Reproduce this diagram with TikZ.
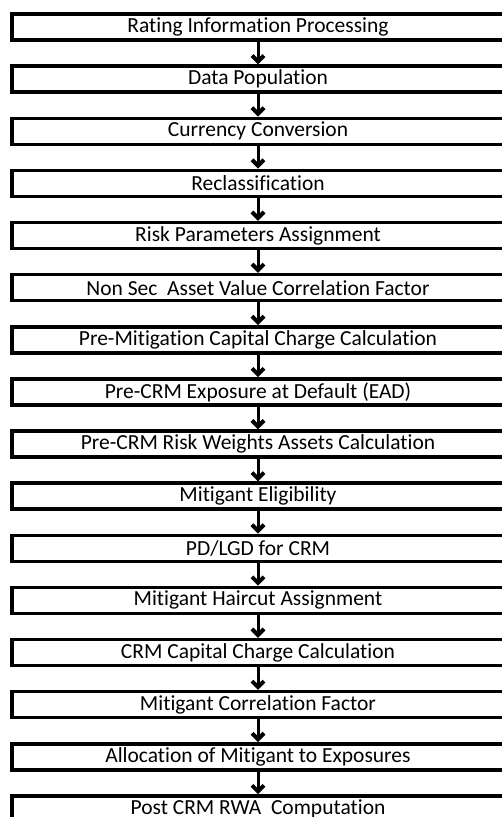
\documentclass[tikz,border=0pt]{standalone}
\usepackage{fontspec}
\setmainfont{Carlito}[Ligatures=NoCommon]
\usepackage{tikz}
\usetikzlibrary{arrows.meta}

\begin{document}
\begin{tikzpicture}[x=1pt,y=-1pt,
    stepbox/.style={draw,line width=3.5pt,minimum width=492pt,minimum height=26pt,
      inner sep=0pt,font=\fontsize{21.5}{24}\selectfont},
    flow/.style={line width=3pt,-{Straight Barb[length=6pt,width=12pt,line width=4pt]}}]
  \useasboundingbox (0,0) rectangle (502,817);
  \clip (0,0) rectangle (502,817);
  \foreach \lbl [count=\i] in {Rating Information Processing,Data Population,Currency Conversion,
      Reclassification,Risk Parameters Assignment,Non Sec\ \ Asset Value Correlation Factor,
      Pre-Mitigation Capital Charge Calculation,Pre-CRM Exposure at Default (EAD),
      Pre-CRM Risk Weights Assets Calculation,Mitigant Eligibility,PD/LGD for CRM,
      Mitigant Haircut Assignment,CRM Capital Charge Calculation,Mitigant Correlation Factor,
      Allocation of Mitigant to Exposures,Post CRM RWA\ \ Computation}
    \node[stepbox] (b\i) at (258,{27+52.13*(\i-1)}) {\lbl};
  % arrows between the steps
  \foreach \i in {2,...,16} {
    \pgfmathtruncatemacro\j{\i-1}
    \draw[flow] (b\j.south) -- (b\i.north);
  }
\end{tikzpicture}
\end{document}
